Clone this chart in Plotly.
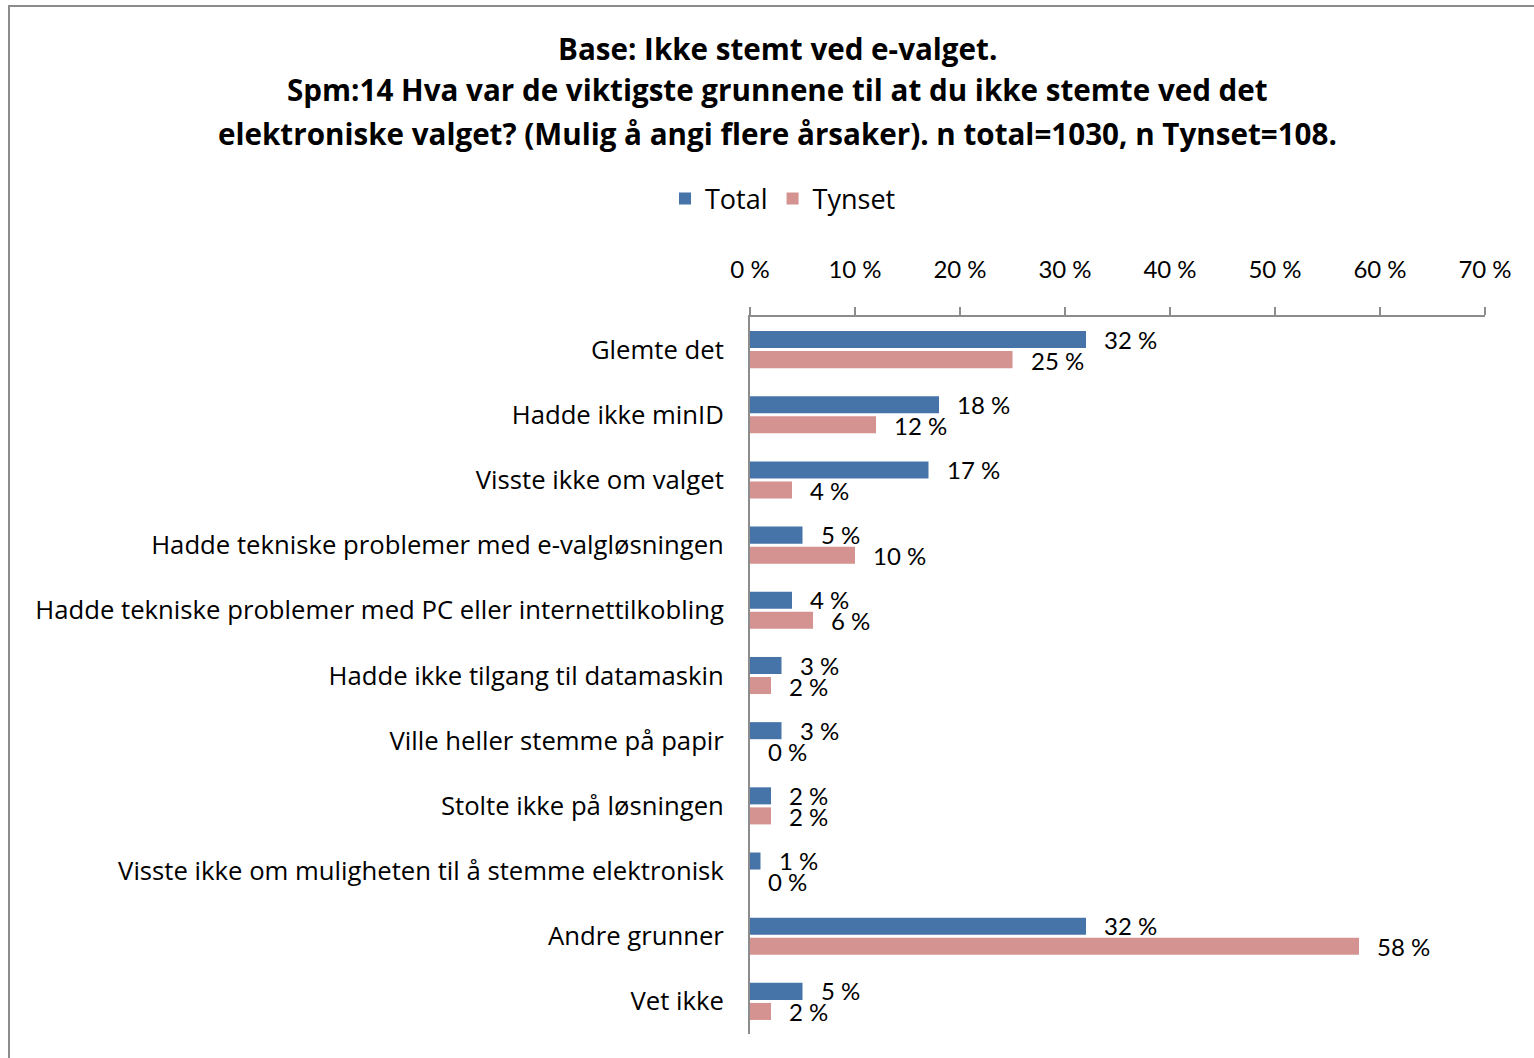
import plotly.graph_objects as go

categories = [
    "Glemte det",
    "Hadde ikke minID",
    "Visste ikke om valget",
    "Hadde tekniske problemer med e-valgløsningen",
    "Hadde tekniske problemer med PC eller internettilkobling",
    "Hadde ikke tilgang til datamaskin",
    "Ville heller stemme på papir",
    "Stolte ikke på løsningen",
    "Visste ikke om muligheten til å stemme elektronisk",
    "Andre grunner",
    "Vet ikke",
]
total = [32, 18, 17, 5, 4, 3, 3, 2, 1, 32, 5]
tynset = [25, 12, 4, 10, 6, 2, 0, 2, 0, 58, 2]
series_names = ["Total", "Tynset"]
series_colors = ["#4674A9", "#D49391"]
tick_vals = [0, 10, 20, 30, 40, 50, 60, 70]
tick_text = [f"{v} %" for v in tick_vals]

title_lines = [
    "Base: Ikke stemt ved e-valget.",
    "Spm:14 Hva var de viktigste grunnene til at du ikke stemte ved det",
    "elektroniske valget? (Mulig å angi flere årsaker). n total=1030, n Tynset=108.",
]

TEXT_FONT = "Open Sans"
NUM_FONT = "Lato"
W, H = 1534, 1058
ML, MR, MT, MB = 750, 49, 317, 24
PW = W - ML - MR
PH = H - MT - MB


def px_x(p):
    return (p - ML) / PW


def px_y(p):
    return (H - MB - p) / PH


fig = go.Figure()
for name, vals, col in zip(series_names, [total, tynset], series_colors):
    fig.add_trace(go.Bar(
        y=categories, x=vals, name=name, orientation="h",
        marker=dict(color=col, line=dict(width=0)),
    ))

annotations = []
for shift, vals in zip([10.5, -10.5], [total, tynset]):
    for c, v in zip(categories, vals):
        annotations.append(dict(
            x=v, y=c, xref="x", yref="y", text=f"{v} %", showarrow=False,
            xanchor="left", yanchor="middle", xshift=16, yshift=shift,
            font=dict(family=NUM_FONT, size=24, color="black"),
        ))

for line, ypx in zip(title_lines, [48, 90, 133]):
    annotations.append(dict(
        x=px_x(777), y=px_y(ypx), xref="paper", yref="paper", text=line, showarrow=False,
        xanchor="center", yanchor="middle",
        font=dict(family=TEXT_FONT, size=29.6, color="black", weight="bold"),
    ))

fig.update_layout(
    width=W, height=H,
    margin=dict(l=ML, r=MR, t=MT, b=MB, pad=0),
    paper_bgcolor="white", plot_bgcolor="white",
    font=dict(family=TEXT_FONT, size=24, color="black"),
    barmode="group", bargap=0.385, bargroupgap=0.15,
    showlegend=True,
    legend=dict(orientation="h", x=px_x(783), xanchor="center", y=px_y(199), yanchor="middle",
                font=dict(family=TEXT_FONT, size=27, color="black"), traceorder="normal",
                itemwidth=30, bgcolor="rgba(0,0,0,0)"),
    xaxis=dict(side="top", range=[0, 70], tickvals=tick_vals, ticktext=tick_text,
               showgrid=False, zeroline=False, showline=True, linecolor="#8c8c8c", linewidth=2,
               ticks="outside", ticklen=8, tickcolor="#8c8c8c", tickwidth=2,
               ticklabelstandoff=19, tickfont=dict(family=NUM_FONT, size=24, color="black"),
               fixedrange=True),
    yaxis=dict(autorange="reversed", showgrid=False, zeroline=False, showline=True,
               linecolor="#8c8c8c", linewidth=2, ticks="", ticklabelstandoff=19,
               tickfont=dict(family=TEXT_FONT, size=25.7, color="black"), fixedrange=True),
    annotations=annotations,
    shapes=[dict(type="rect", xref="paper", yref="paper",
                 x0=px_x(9), x1=px_x(1560), y0=px_y(1080), y1=px_y(6),
                 line=dict(color="#8c8c8c", width=2), fillcolor="rgba(0,0,0,0)", layer="below")],
)

fig.write_html("out.html", config={"displayModeBar": False},
               post_script="document.body.style.margin='0';")
